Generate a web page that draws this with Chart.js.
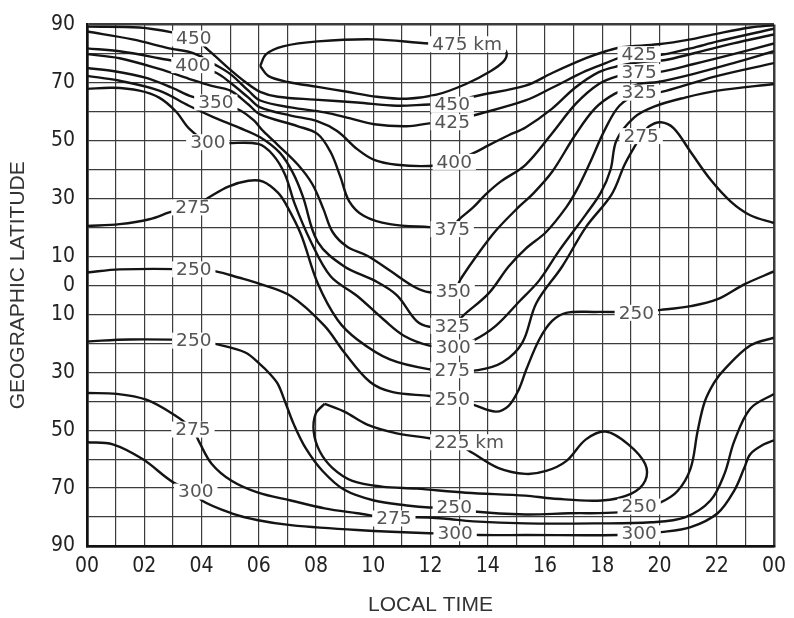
<!DOCTYPE html>
<html>
<head>
<meta charset="utf-8">
<script src="https://cdn.jsdelivr.net/npm/chart.js@4"></script>
<style>
  html, body { margin: 0; padding: 0; background: #fff; }
  #wrap { width: 794px; height: 618px; }
</style>
</head>
<body>
<div id="wrap"><canvas id="chart"></canvas></div>
<script>
// contour lines of equal height, points are [local time (h), geographic latitude (deg)]
const c475 = [[6.05,75.7],[6.26,79.8],[6.85,82.5],[8.06,84.2],[10.03,84.9],[11.96,83.5],[13.59,83.2],[14.45,82.5],[14.66,80.1],[14.56,77.4],[14.11,74.0],[13.24,69.5],[12.21,65.8],[11.17,64.4],[10.13,65.1],[9.09,66.8],[8.06,68.5],[7.02,70.2],[6.33,72.3],[6.05,75.7]];
const c450 = [[0,89.3],[1.83,89.0],[2.97,87.3],[3.73,85.2],[4.32,80.5],[4.94,75.0],[5.53,70.2],[6.05,66.8],[6.67,65.1],[7.95,64.1],[9.44,63.1],[10.82,62.0],[11.96,62.4],[12.72,62.4],[13.49,65.1],[15.32,68.9],[16.25,73.3],[17.43,78.4],[18.12,80.8],[18.67,82.2],[19.95,83.2],[21.09,84.9],[22.03,86.9],[23.17,89.0],[24,89.8]];
const c425 = [[0,87.6],[1.59,84.9],[2.87,81.8],[3.73,80.1],[4.43,76.4],[5.01,72.9],[5.64,67.2],[6.05,63.8],[7.12,61.4],[8.30,59.7],[9.20,57.6],[10.03,55.6],[11.17,54.9],[11.96,55.9],[12.72,56.6],[13.49,58.6],[15.32,63.8],[16.25,68.2],[17.43,74.0],[18.12,76.7],[18.67,78.8],[19.29,79.8],[19.95,79.4],[21.09,81.8],[22.03,84.2],[24,88.6]];
const c400 = [[0,81.8],[1.14,80.8],[2.52,78.4],[3.73,76.0],[4.53,73.3],[5.01,69.9],[5.64,64.8],[6.05,61.4],[7.12,58.6],[8.06,56.6],[8.75,53.2],[9.44,47.0],[10.03,43.3],[10.82,41.6],[11.96,41.2],[12.72,42.3],[13.52,45.7],[14.04,48.4],[14.73,51.8],[15.32,54.5],[16.25,61.0],[17.05,68.2],[17.88,73.6],[18.57,75.7],[19.29,77.0],[20.16,77.7],[21.20,80.1],[22.58,83.5],[24,86.6]];
const c375 = [[0,79.8],[1.14,78.4],[2.52,74.7],[3.56,71.3],[4.32,68.9],[5.01,67.2],[5.64,62.4],[6.05,59.0],[7.37,54.9],[8.06,52.2],[8.51,46.0],[8.85,37.5],[9.16,29.0],[9.68,23.9],[10.58,21.1],[11.96,20.1],[12.72,19.8],[13.00,22.8],[13.49,26.9],[13.93,31.4],[14.45,35.8],[15.32,41.6],[16.25,52.5],[17.08,62.7],[17.88,69.5],[18.57,72.3],[19.29,73.6],[19.95,73.6],[21.20,76.4],[22.58,79.8],[24,83.5]];
const c350 = [[0,75.0],[0.90,74.0],[2.07,71.6],[2.97,68.2],[3.67,65.1],[4.50,63.1],[5.29,60.7],[5.82,57.0],[6.16,53.2],[6.67,48.4],[7.37,41.6],[7.88,34.8],[8.26,26.3],[8.58,18.4],[9.09,13.3],[9.79,10.2],[10.58,5.1],[11.41,-0.4],[11.96,-2.4],[12.79,-2.0],[13.07,2.4],[13.49,8.5],[14.28,18.8],[15.11,27.3],[15.56,31.4],[16.25,39.2],[17.05,51.8],[17.74,61.0],[18.43,66.1],[19.29,69.5],[19.95,70.2],[21.20,73.0],[22.58,76.7],[24,80.8]];
const c325 = [[0,72.3],[1.14,70.6],[2.52,67.2],[3.56,62.0],[4.43,58.0],[5.29,54.5],[6.05,51.1],[6.74,45.7],[7.19,38.9],[7.54,30.7],[8.06,15.0],[8.99,6.5],[10.03,1.7],[10.82,-3.4],[11.51,-12.3],[11.96,-14.3],[12.76,-14.0],[13.17,-10.2],[14.04,-2.7],[14.73,6.5],[15.32,12.6],[16.04,18.4],[16.74,26.9],[17.12,33.1],[17.57,42.3],[18.08,53.5],[18.60,62.0],[19.29,66.1],[19.95,66.5],[20.85,68.9],[22.03,72.3],[24,76.7]];
const c300 = [[0,67.8],[0.90,68.2],[1.83,67.2],[2.52,64.8],[3.11,60.0],[3.56,54.2],[4.22,49.4],[4.84,49.1],[5.98,48.8],[6.50,45.0],[6.92,38.2],[7.26,28.0],[7.81,15.3],[8.51,3.1],[9.44,-3.7],[10.37,-11.9],[11.07,-17.4],[11.96,-20.8],[12.79,-21.5],[13.49,-19.1],[14.28,-14.0],[15.11,-5.5],[15.80,1.7],[16.49,11.9],[17.43,24.5],[17.95,32.0],[18.29,39.9],[18.50,50.1],[19.12,58.0],[19.81,61.7],[20.89,64.8],[22.03,67.2],[24,69.5]];
const c275 = [[0,20.5],[1.14,21.1],[2.18,22.8],[3.01,25.6],[3.70,26.9],[4.25,30.3],[4.94,34.1],[5.64,36.1],[6.15,35.8],[6.67,32.0],[6.95,28.0],[7.47,17.7],[8.06,0.7],[8.75,-11.9],[9.44,-18.7],[10.58,-25.6],[11.96,-29.0],[12.76,-29.3],[13.66,-29.3],[14.52,-26.6],[15.21,-19.8],[15.70,-6.1],[16.60,6.5],[17.43,20.1],[18.33,31.4],[18.78,41.6],[19.12,47.7],[19.36,51.5],[19.64,54.9],[20.05,56.3],[20.50,54.2],[21.09,46.0],[21.78,36.5],[22.48,29.0],[23.17,24.2],[24,21.5]];
const c250a = [[0,4.4],[1.14,5.5],[3.73,5.5],[4.50,4.8],[5.29,2.7],[5.98,0.7],[7.12,-3.7],[8.30,-14.0],[8.99,-23.2],[9.89,-33.4],[10.65,-36.8],[11.96,-38.2],[12.76,-39.2],[13.49,-41.2],[14.28,-43.6],[14.73,-41.6],[15.08,-36.1],[15.35,-29.0],[15.80,-18.7],[16.25,-12.3],[16.74,-9.5],[17.74,-9.2],[19.19,-9.2],[20.05,-8.5],[21.09,-7.2],[22.03,-4.8],[22.96,0.3],[24,4.8]];
const c250b = [[0,-19.4],[1.49,-18.7],[3.73,-19.1],[4.60,-20.5],[5.53,-23.2],[6.05,-27.3],[6.40,-30.7],[6.67,-34.1],[6.92,-40.2],[7.23,-48.1],[7.64,-56.2],[8.23,-64.1],[8.99,-70.6],[10.03,-74.3],[11.17,-76.0],[11.96,-76.7],[12.83,-76.7],[13.52,-78.1],[15.32,-79.1],[16.84,-78.7],[18.57,-78.4],[19.33,-76.7],[20.02,-75.0],[20.64,-70.9],[21.09,-63.1],[21.33,-50.5],[21.58,-40.2],[21.92,-33.4],[22.27,-29.0],[23.17,-20.8],[24,-18.1]];
const c225 = [[8.30,-40.9],[8.99,-43.6],[9.79,-48.1],[10.82,-51.1],[11.96,-52.8],[12.90,-54.5],[13.49,-58.0],[14.38,-63.1],[15.32,-65.1],[16.04,-64.1],[16.74,-60.7],[17.43,-53.2],[18.12,-50.5],[18.91,-54.9],[19.50,-61.7],[19.50,-67.5],[19.02,-71.9],[17.98,-74.3],[16.25,-73.6],[15.32,-72.6],[13.24,-71.6],[11.51,-70.2],[10.30,-69.5],[9.27,-67.5],[8.58,-63.1],[8.13,-57.3],[7.92,-50.5],[7.99,-44.3],[8.30,-40.9]];
const c275b = [[0,-37.2],[1.04,-37.5],[2.07,-39.5],[3.04,-44.7],[3.70,-49.8],[3.91,-53.9],[4.36,-61.7],[5.05,-67.5],[5.98,-71.6],[7.12,-74.3],[8.30,-77.0],[9.44,-78.7],[10.72,-80.5],[11.51,-80.1],[12.45,-80.5],[13.49,-81.5],[15.32,-82.2],[17.74,-82.2],[19.71,-81.8],[20.89,-80.1],[21.78,-74.3],[22.27,-65.1],[22.61,-53.9],[23.17,-42.6],[24,-37.5]];
const c300b = [[0,-54.2],[0.90,-54.9],[1.94,-60.0],[3.04,-68.2],[3.80,-71.2],[4.01,-74.3],[5.05,-78.7],[5.98,-81.1],[7.12,-82.8],[9.44,-84.5],[11.96,-85.6],[12.86,-85.6],[13.69,-86.2],[15.32,-86.2],[18.57,-86.2],[19.33,-85.6],[20.05,-85.2],[21.09,-83.5],[22.03,-78.7],[22.61,-70.9],[22.96,-63.1],[23.17,-58.3],[23.65,-54.9],[24,-53.5]];

// contour value labels
const labelText = ['475 km', '450', '425', '400', '375', '350', '325', '300', '275', '250', '225 km', '250', '275', '300',
  '450', '400', '350', '300', '275', '250', '250', '275', '300',
  '425', '375', '325', '275', '250', '250', '300'];
const labelHour = [13.28, 12.76, 12.76, 12.83, 12.76, 12.79, 12.76, 12.79, 12.76, 12.76, 13.35, 12.83, 10.72, 12.86,
  3.73, 3.70, 4.50, 4.22, 3.70, 3.73, 3.73, 3.70, 3.80,
  19.29, 19.29, 19.29, 19.36, 19.19, 19.29, 19.29];
const labelLat = [83.2, 62.4, 56.3, 42.6, 19.4, -2.0, -14.0, -21.5, -29.3, -39.2, -54.2, -76.7, -80.5, -85.6,
  85.2, 76.0, 63.1, 49.4, 26.9, 5.5, -19.1, -49.8, -71.2,
  79.8, 73.6, 66.5, 51.5, -9.5, -76.4, -85.6];

// latitudes that get a tick label (south shown without sign)
const latTicks = [90, 70, 50, 30, 10, 0, -10, -30, -50, -70, -90];

const contours = [c475, c450, c425, c400, c375, c350, c325, c300, c275, c250a, c250b, c225, c275b, c300b];

const tickFont = { family: '"Liberation Sans Narrow", "DejaVu Sans Condensed", "Arial Narrow", sans-serif', size: 21 };
const titleFont = { family: '"Liberation Sans", Arial, sans-serif', size: 21 };

// boxed labels drawn over the lines
const contourLabels = {
    id: 'contourLabels',
    afterDatasetsDraw(chart) {
        const { ctx, scales: { x, y } } = chart;
        ctx.save();
        ctx.font = '18.5px "DejaVu Sans", sans-serif';
        ctx.textAlign = 'center';
        ctx.textBaseline = 'middle';
        labelText.forEach((text, i) => {
            const px = x.getPixelForValue(labelHour[i]);
            const py = y.getPixelForValue(labelLat[i]);
            const w = ctx.measureText(text).width;
            ctx.fillStyle = '#fff';
            ctx.fillRect(px - w / 2 - 4, py - 8, w + 8, 16);
            ctx.fillStyle = '#555';
            ctx.fillText(text, px, py + 1);
        });
        ctx.restore();
    }
};

const datasets = contours.map(pts => ({
    data: pts.map(p => ({ x: p[0], y: p[1] })),
    showLine: true,
    borderColor: '#141414',
    borderWidth: 2.4,
    pointRadius: 0,
    tension: 0.35,
    fill: false
}));

new Chart(document.getElementById('chart'), {
    type: 'scatter',
    data: { datasets: datasets },
    options: {
        responsive: true,
        maintainAspectRatio: false,
        animation: false,
        layout: { padding: { top: 18, right: 13, left: 0, bottom: 0 } },
        plugins: { legend: { display: false }, tooltip: { enabled: false } },
        scales: {
            x: {
                type: 'linear',
                min: 0,
                max: 24,
                afterFit: s => { s.height = 72; },
                ticks: {
                    stepSize: 1,
                    autoSkip: false,
                    maxRotation: 0,
                    padding: 8,
                    color: '#222',
                    font: tickFont,
                    callback: v => v % 2 === 0 ? String(v % 24).padStart(2, '0') : ''
                },
                grid: {
                    color: '#3c3c3c',
                    lineWidth: c => (c.tick && (c.tick.value === 0 || c.tick.value === 24)) ? 2.5 : 1.2,
                    drawTicks: false
                },
                border: { color: '#111', width: 2.5 },
                title: { display: true, text: 'LOCAL TIME', color: '#333', font: titleFont, padding: { top: 0, bottom: 0 } }
            },
            y: {
                type: 'linear',
                min: -90,
                max: 90,
                afterFit: s => { s.width = 87; },
                ticks: {
                    stepSize: 10,
                    autoSkip: false,
                    padding: 12,
                    color: '#222',
                    font: tickFont,
                    callback: v => latTicks.includes(v) ? String(Math.abs(v)) : ''
                },
                grid: {
                    color: '#3c3c3c',
                    lineWidth: c => (c.tick && Math.abs(c.tick.value) === 90) ? 2.5 : 1.2,
                    drawTicks: false
                },
                border: { color: '#111', width: 2.5 },
                title: { display: true, text: 'GEOGRAPHIC LATITUDE', color: '#333', font: titleFont, padding: { top: 6, bottom: 0 } }
            }
        }
    },
    plugins: [contourLabels]
});
</script>
</body>
</html>
